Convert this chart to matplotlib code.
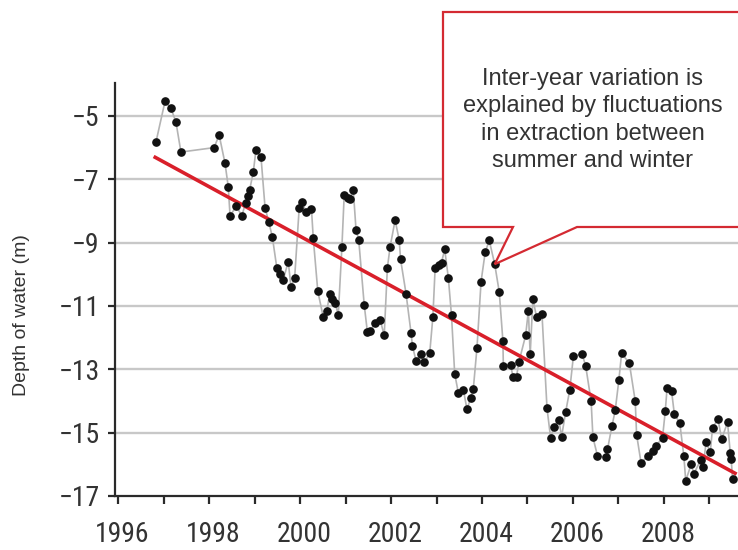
import matplotlib
matplotlib.use("Agg")
import matplotlib.pyplot as plt
from matplotlib.patches import Polygon
from matplotlib import font_manager
from matplotlib.transforms import ScaledTranslation
import numpy as np

# ---- data ----
years = [1996.83, 1997.03, 1997.16, 1997.27, 1997.38, 1998.11, 1998.22, 1998.35, 1998.42, 1998.46,
         1998.60, 1998.72, 1998.80, 1998.86, 1998.89, 1998.97, 1999.03, 1999.14, 1999.23, 1999.31,
         1999.39, 1999.49, 1999.56, 1999.63, 1999.74, 1999.80, 1999.88, 1999.98, 2000.04, 2000.13,
         2000.25, 2000.29, 2000.39, 2000.51, 2000.59, 2000.65, 2000.70, 2000.77, 2000.84, 2000.92,
         2000.97, 2001.06, 2001.10, 2001.17, 2001.23, 2001.29, 2001.41, 2001.48, 2001.54, 2001.65,
         2001.76, 2001.85, 2001.92, 2001.98, 2002.09, 2002.18, 2002.21, 2002.33, 2002.44, 2002.47,
         2002.55, 2002.67, 2002.73, 2002.85, 2002.92, 2002.97, 2003.05, 2003.11, 2003.18, 2003.26,
         2003.33, 2003.40, 2003.48, 2003.59, 2003.67, 2003.75, 2003.81, 2003.89, 2003.98, 2004.07,
         2004.16, 2004.28, 2004.38, 2004.46, 2004.47, 2004.63, 2004.68, 2004.76, 2004.81, 2004.96,
         2005.02, 2005.06, 2005.12, 2005.20, 2005.32, 2005.43, 2005.51, 2005.58, 2005.69, 2005.75,
         2005.84, 2005.93, 2006.01, 2006.20, 2006.28, 2006.40, 2006.44, 2006.54, 2006.72, 2006.76,
         2006.86, 2006.93, 2007.01, 2007.07, 2007.24, 2007.37, 2007.40, 2007.50, 2007.64, 2007.75,
         2007.83, 2007.97, 2008.03, 2008.07, 2008.17, 2008.23, 2008.35, 2008.44, 2008.48, 2008.60,
         2008.66, 2008.81, 2008.86, 2008.93, 2009.02, 2009.07, 2009.19, 2009.27, 2009.40, 2009.46,
         2009.48, 2009.51]
depth = [-5.83, -4.54, -4.76, -5.19, -6.14, -6.00, -5.60, -6.50, -7.23, -8.15,
         -7.85, -8.16, -7.74, -7.52, -7.34, -6.78, -6.08, -6.29, -7.90, -8.34,
         -8.82, -9.81, -9.98, -10.17, -9.60, -10.40, -10.12, -7.92, -7.73, -8.02,
         -7.93, -8.86, -10.54, -11.35, -11.16, -10.61, -10.77, -10.91, -11.27, -9.13,
         -7.50, -7.60, -7.63, -7.34, -8.59, -8.92, -10.96, -11.82, -11.79, -11.54,
         -11.43, -11.93, -9.79, -9.13, -8.29, -8.92, -9.53, -10.61, -11.85, -12.25,
         -12.74, -12.53, -12.78, -12.50, -11.35, -9.80, -9.70, -9.63, -9.21, -10.11,
         -11.30, -13.14, -13.74, -13.64, -14.26, -13.92, -13.61, -12.32, -10.23, -9.31,
         -8.93, -9.68, -10.56, -12.10, -12.91, -12.85, -13.23, -13.23, -12.78, -11.93,
         -11.15, -12.53, -10.78, -11.35, -11.26, -14.23, -15.17, -14.81, -14.59, -15.13,
         -14.35, -13.65, -12.59, -12.51, -12.89, -14.00, -15.15, -15.73, -15.78, -15.53,
         -14.78, -14.30, -13.34, -12.50, -12.80, -14.00, -15.06, -15.97, -15.73, -15.57,
         -15.41, -15.16, -14.33, -13.60, -13.70, -14.41, -14.70, -15.75, -16.52, -16.00,
         -16.30, -15.86, -16.09, -15.30, -15.62, -14.85, -14.57, -15.21, -14.67, -15.65,
         -15.83, -16.45]
trend_x = [1996.78, 2009.60]
trend_y = [-6.28, -16.31]
y_ticks = [-5, -7, -9, -11, -13, -15, -17]
x_ticks = list(range(1996, 2010))
x_labels = [str(y) if y % 2 == 0 else "" for y in x_ticks]
ylabel_text = "Depth of water (m)"
note_text = "Inter-year variation is\nexplained by fluctuations\nin extraction between\nsummer and winter"
note_target = (2004.28, -9.68)

# pick a condensed font if one is installed
available = {f.name for f in font_manager.fontManager.ttflist}
narrow = None
for cand in ["Liberation Sans Narrow", "DejaVu Sans Condensed", "Roboto Condensed",
             "Open Sans Condensed"]:
    if cand in available:
        narrow = cand
        break
if narrow is not None:
    tick_font = dict(family=[narrow, "DejaVu Sans"], size=20)
else:
    tick_font = dict(family=["Roboto", "DejaVu Sans"], size=19, stretch="condensed")

W, H = 738, 550
fig = plt.figure(figsize=(W / 100, H / 100), dpi=100)
fig.patch.set_facecolor("white")
ax = fig.add_axes([115 / W, 1 - 496 / H, (W - 115) / W, (496 - 83) / H])
ax.set_xlim(1995.93, 2009.63)
ax.set_ylim(-17, -3.96)

ax.set_yticks(y_ticks)
for yv in y_ticks[:-1]:
    ax.axhline(yv, color="#c8c8c8", lw=1.7, zorder=1)

ax.plot(years, depth, color="#b4b4b4", lw=1.2, zorder=2)
ax.plot(trend_x, trend_y, color="#d91f2a", lw=2.6, solid_capstyle="butt", zorder=3)
ax.plot(years, depth, linestyle="none", marker="o", ms=5.2, color="#111111", zorder=4)

for s in ["top", "right"]:
    ax.spines[s].set_visible(False)
for s in ["left", "bottom"]:
    ax.spines[s].set_color("#2a2a2a")
    ax.spines[s].set_linewidth(1.6)

ax.set_xticks(x_ticks)
ax.set_xticklabels(x_labels, **tick_font, color="#333333")
ax.set_yticklabels([f"\u2212{abs(v)}" for v in y_ticks], **tick_font, color="#333333")
ax.tick_params(axis="x", direction="out", length=6, width=1.6, color="#2a2a2a", pad=12)
ax.tick_params(axis="y", direction="out", length=5, width=1.6, color="#2a2a2a", pad=6)
shift = ScaledTranslation(4 / 100, 0, fig.dpi_scale_trans)
for lab in ax.get_xticklabels():
    lab.set_transform(lab.get_transform() + shift)

fig.text(22 / W, 1 - 315 / H, ylabel_text, rotation=90, ha="center", va="center",
         family=["Liberation Sans", "DejaVu Sans"], size=14, color="#333333")

# callout box
fig.canvas.draw()
tip_disp = ax.transData.transform(note_target)
tip = fig.transFigure.inverted().transform(tip_disp)
def fp(x, y):
    return (x / W, 1 - y / H)
pts = [fp(443, 12), fp(760, 12), fp(760, 227), fp(577, 227), tuple(tip),
       fp(513, 227), fp(443, 227)]
poly = Polygon(pts, closed=True, transform=fig.transFigure, facecolor="white",
               edgecolor="#d42a32", lw=1.6, zorder=10, clip_on=False)
fig.patches.append(poly)
fig.text(593 / W, 1 - 120 / H, note_text, ha="center", va="center", multialignment="center",
         family=["Liberation Sans", "DejaVu Sans"], size=17, color="#333333",
         linespacing=1.33, zorder=11)

fig.savefig("out.png", dpi=100)
